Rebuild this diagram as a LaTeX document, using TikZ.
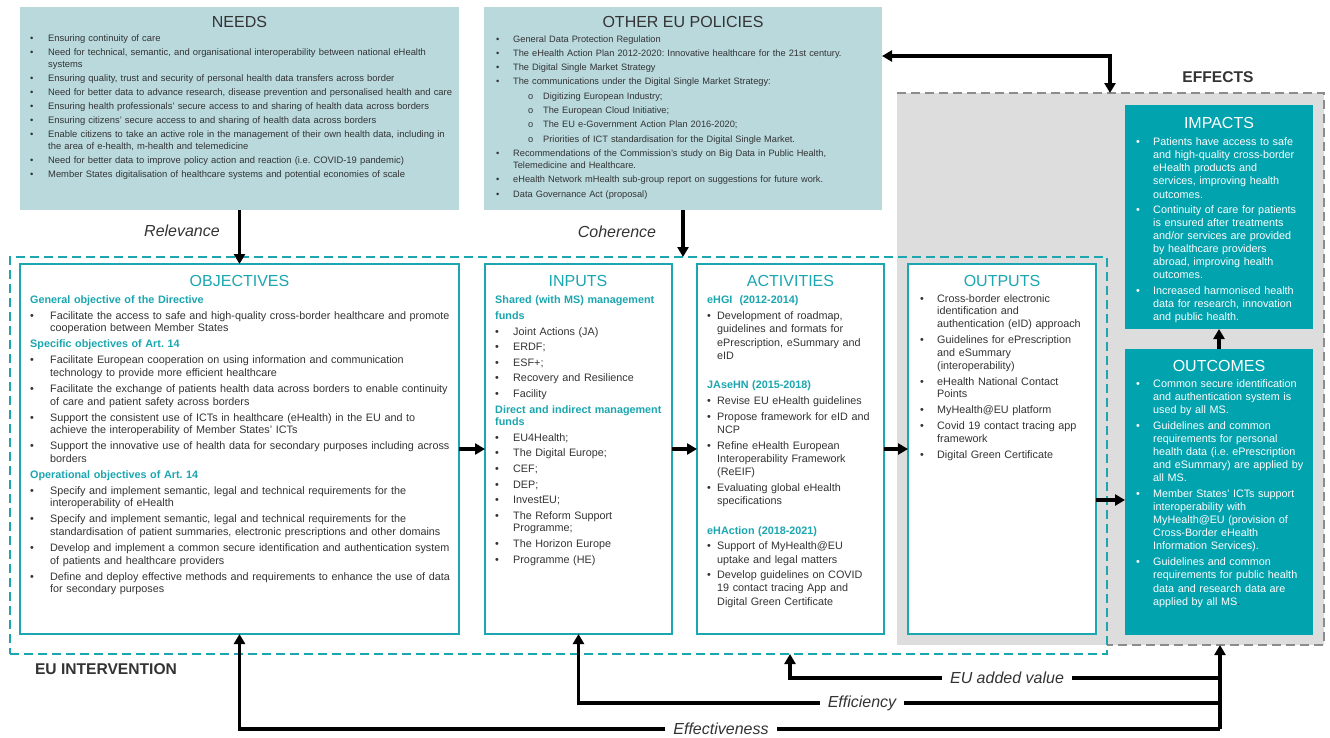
\documentclass[tikz,border=0pt]{standalone}
\usepackage{fontspec}
\setmainfont{Liberation Sans}
\usetikzlibrary{arrows.meta}
\definecolor{lteal}{RGB}{185,217,221}
\definecolor{teal1}{RGB}{27,166,176}
\definecolor{dteal}{RGB}{0,163,174}
\definecolor{txt}{RGB}{51,51,51}
\definecolor{gfill}{RGB}{221,221,221}
\definecolor{gline}{RGB}{140,140,140}
\newlength{\bind}\newlength{\boff}
\newcommand{\bi}[1]{\par\hangindent=\bind\hangafter=1\noindent\makebox[\bind][l]{\hspace{\boff}•}#1}
\newcommand{\sbi}[1]{\par\hangindent=47pt\hangafter=1\noindent\makebox[47pt][l]{\hspace{32pt}o}#1}
\newcommand{\hd}[1]{\par\noindent{\bfseries\color{teal1}#1}}
\newcommand{\fA}{\fontsize{9.4}{12}\selectfont}
\newcommand{\fAo}{\fontsize{9.25}{12}\selectfont}
\newcommand{\fB}{\fontsize{10.8}{12.6}\selectfont}
\newcommand{\fT}{\fontsize{16}{18}\selectfont}
\begin{document}
\frenchspacing
\begin{tikzpicture}[x=1pt,y=-1pt,
  box/.style={draw=teal1,line width=2.3pt,fill=white,inner sep=0pt,outer sep=0pt,anchor=north west},
  lbox/.style={fill=lteal,inner sep=0pt,outer sep=0pt,anchor=north west},
  dbox/.style={fill=dteal,inner sep=0pt,outer sep=0pt,anchor=north west},
  ttl/.style={font=\fT,inner sep=0pt},
  body/.style={anchor=north west,inner sep=0pt,align=left},
  arr/.style={line width=3.2pt,-{Triangle[length=10pt,width=11pt]}},
  lab/.style={font=\fT\itshape,text=txt,fill=white,inner xsep=8pt,inner ysep=2pt},
  big/.style={font=\fontsize{15.6}{18}\selectfont\bfseries,text=txt}
]
\useasboundingbox (0,0) rectangle (1330,737);
% effects region
\node[fill=gfill,inner sep=0pt,outer sep=0pt,anchor=north west,minimum width=427pt,minimum height=552pt] (eff) at (897,93) {};
\draw[gline,line width=2.3pt,dash pattern=on 9pt off 5pt] (eff.north west) -- (eff.north east) -- (eff.south east) -- ([xshift=210pt]eff.south west);
% EU intervention
\node[draw=teal1,line width=2.3pt,dash pattern=on 9pt off 5pt,inner sep=0pt,outer sep=0pt,anchor=north west,minimum width=1097pt,minimum height=397pt] (eu) at (10,257) {};
% boxes
\node[lbox,minimum width=439pt,minimum height=203pt] (needs) at (20,7) {};
\node[lbox,minimum width=398pt,minimum height=203pt] (oth) at (484,7) {};
\node[box,minimum width=439pt,minimum height=370pt] (obj) at (20,264) {};
\node[box,minimum width=187pt,minimum height=370pt] (inp) at (485,264) {};
\node[box,minimum width=187pt,minimum height=370pt] (act) at (697,264) {};
\node[box,minimum width=188pt,minimum height=370pt] (out) at (908,264) {};
\node[dbox,minimum width=188pt,minimum height=224pt] (imp) at (1125,105) {};
\node[dbox,minimum width=188pt,minimum height=286pt] (outc) at (1125,349) {};
% titles
\node[ttl,text=txt] (t1) at (239.5,21.5) {NEEDS};
\node[ttl,text=txt] (t2) at (683,21.5) {OTHER EU POLICIES};
\node[ttl,text=teal1] (t3) at (239.5,281) {OBJECTIVES};
\node[ttl,text=teal1] (t4) at (578,281) {INPUTS};
\node[ttl,text=teal1] (t5) at (790.5,281) {ACTIVITIES};
\node[ttl,text=teal1] (t6) at (1002,281) {OUTPUTS};
\node[ttl,text=white] (t7) at (1219,123) {IMPACTS};
\node[ttl,text=white] (t8) at (1219,366) {OUTCOMES};
% NEEDS body
\node[body,text width=432pt,font=\fA,text=txt] (needsb) at (30,27.5) {\setlength{\bind}{18pt}\setlength{\boff}{0pt}\setlength{\parskip}{2pt}%
\bi{Ensuring continuity of care}
\bi{Need for technical, semantic, and organisational interoperability between national eHealth\newline systems}
\bi{Ensuring quality, trust and security of personal health data transfers across border}
\bi{Need for better data to advance research, disease prevention and personalised health and care}
\bi{Ensuring health professionals’ secure access to and sharing of health data across borders}
\bi{Ensuring citizens’ secure access to and sharing of health data across borders}
\bi{Enable citizens to take an active role in the management of their own health data, including in\newline the area of e-health, m-health and telemedicine}
\bi{Need for better data to improve policy action and reaction (i.e. COVID-19 pandemic)}
\bi{Member States digitalisation of healthcare systems and potential economies of scale}\par};
% OTHER body
\node[body,text width=390pt,font=\fAo,text=txt] (othb) at (496,27.5) {\setlength{\bind}{17pt}\setlength{\boff}{0pt}\setlength{\parskip}{2.3pt}%
\bi{General Data Protection Regulation}
\bi{The eHealth Action Plan 2012-2020: Innovative healthcare for the 21st century.}
\bi{The Digital Single Market Strategy}
\bi{The communications under the Digital Single Market Strategy:}
\sbi{Digitizing European Industry;}
\sbi{The European Cloud Initiative;}
\sbi{The EU e-Government Action Plan 2016-2020;}
\sbi{Priorities of ICT standardisation for the Digital Single Market.}
\bi{Recommendations of the Commission’s study on Big Data in Public Health,\newline Telemedicine and Healthcare.}
\bi{eHealth Network mHealth sub-group report on suggestions for future work.}
\bi{Data Governance Act (proposal)}\par};
% OBJECTIVES body
\node[body,text width=440pt,font=\fB,text=txt] (objb) at (30,287) {\setlength{\bind}{20pt}\setlength{\boff}{0pt}\setlength{\parskip}{3.4pt}%
\hd{General objective of the Directive}
\bi{Facilitate the access to safe and high-quality cross-border healthcare and promote\newline cooperation between Member States}
\hd{Specific objectives of Art. 14}
\bi{Facilitate European cooperation on using information and communication\newline technology to provide more efficient healthcare}
\bi{Facilitate the exchange of patients health data across borders to enable continuity\newline of care and patient safety across borders}
\bi{Support the consistent use of ICTs in healthcare (eHealth) in the EU and to\newline achieve the interoperability of Member States’ ICTs}
\bi{Support the innovative use of health data for secondary purposes including across\newline borders}
\hd{Operational objectives of Art. 14}
\bi{Specify and implement semantic, legal and technical requirements for the\newline interoperability of eHealth}
\bi{Specify and implement semantic, legal and technical requirements for the\newline standardisation of patient summaries, electronic prescriptions and other domains}
\bi{Develop and implement a common secure identification and authentication system\newline of patients and healthcare providers}
\bi{Define and deploy effective methods and requirements to enhance the use of data\newline for secondary purposes}\par};
% INPUTS body
\node[body,text width=200pt,font=\fB,text=txt] (inpb) at (495,288) {\setlength{\bind}{18pt}\setlength{\boff}{0pt}\setlength{\parskip}{3pt}%
\hd{Shared (with MS) management}
\hd{funds}
\bi{Joint Actions (JA)}
\bi{ERDF;}
\bi{ESF+;}
\bi{Recovery and Resilience}
\bi{Facility}
\hd{Direct and indirect management\newline funds}
\bi{EU4Health;}
\bi{The Digital Europe;}
\bi{CEF;}
\bi{DEP;}
\bi{InvestEU;}
\bi{The Reform Support\newline Programme;}
\bi{The Horizon Europe}
\bi{Programme (HE)}\par};
% ACTIVITIES body
\node[body,text width=200pt,font=\fontsize{10.8}{13.3}\selectfont,text=txt] (actb) at (707,288) {\setlength{\bind}{10pt}\setlength{\boff}{0pt}\setlength{\parskip}{2.3pt}%
\hd{eHGI~ (2012-2014)}
\bi{Development of roadmap,\newline guidelines and formats for\newline ePrescription, eSummary and\newline eID}
\par\vspace{14pt}
\hd{JAseHN (2015-2018)}
\bi{Revise EU eHealth guidelines}
\bi{Propose framework for eID and\newline NCP}
\bi{Refine eHealth European\newline Interoperability Framework\newline (ReEIF)}
\bi{Evaluating global eHealth\newline specifications}
\par\vspace{14pt}
\hd{eHAction (2018-2021)}
\bi{Support of MyHealth@EU\newline uptake and legal matters}
\bi{Develop guidelines on COVID\newline 19 contact tracing App and\newline Digital Green Certificate}\par};
% OUTPUTS body
\node[body,text width=200pt,font=\fontsize{10.8}{12.7}\selectfont,text=txt] (outb) at (920,286) {\setlength{\bind}{17pt}\setlength{\boff}{0pt}\setlength{\parskip}{3.3pt}%
\bi{Cross-border electronic\newline identification and\newline authentication (eID) approach}
\bi{Guidelines for ePrescription\newline and eSummary\newline (interoperability)}
\bi{eHealth National Contact\newline Points}
\bi{MyHealth@EU platform}
\bi{Covid 19 contact tracing app\newline framework}
\bi{Digital Green Certificate}\par};
% IMPACTS body
\node[body,text width=200pt,font=\fontsize{10.8}{13.1}\selectfont,text=white] (impb) at (1136,130) {\setlength{\bind}{17pt}\setlength{\boff}{0pt}\setlength{\parskip}{2.3pt}%
\bi{Patients have access to safe\newline and high-quality cross-border\newline eHealth products and\newline services, improving health\newline outcomes.}
\bi{Continuity of care for patients\newline is ensured after treatments\newline and/or services are provided\newline by healthcare providers\newline abroad, improving health\newline outcomes.}
\bi{Increased harmonised health\newline data for research, innovation\newline and public health.}\par};
% OUTCOMES body
\node[body,text width=200pt,font=\fontsize{10.8}{13.1}\selectfont,text=white] (outcb) at (1136,371) {\setlength{\bind}{17pt}\setlength{\boff}{0pt}\setlength{\parskip}{2.8pt}%
\bi{Common secure identification\newline and authentication system is\newline used by all MS.}
\bi{Guidelines and common\newline requirements for personal\newline health data (i.e. ePrescription\newline and eSummary) are applied by\newline all MS.}
\bi{Member States’ ICTs support\newline interoperability with\newline MyHealth@EU (provision of\newline Cross-Border eHealth\newline Information Services).}
\bi{Guidelines and common\newline requirements for public health\newline data and research data are\newline applied by all MS{\color{txt}.}}\par};
% group labels
\node[big] (eul) at (106,669) {EU INTERVENTION};
\node[big] (effl) at (1218,77) {EFFECTS};
\node[font=\fT\itshape,text=txt] (rel) at (182,231) {Relevance};
\node[font=\fT\itshape,text=txt] (coh) at (617,232) {Coherence};
% top arrows
\draw[arr] (needs.south) -- (obj.north);
\draw[arr] (oth.south) -- (eu.north -| oth.south);
\coordinate (e1) at (1110,56);
\draw[line width=3.2pt,{Triangle[length=10pt,width=11pt]}-{Triangle[length=10pt,width=11pt]}] (oth.east |- e1) -- (e1) -- (e1 |- eff.north);
% chain arrows
\draw[arr] (obj.east) -- (inp.west);
\draw[arr] (inp.east) -- (act.west);
\draw[arr] (act.east) -- (out.west);
\coordinate (o2) at ([yshift=-8pt]outc.west);
\draw[arr] (out.east |- o2) -- (o2);
\draw[arr] (outc.north) -- (imp.south);
% bottom feedback arrows
\coordinate (b1) at (1220,678);
\coordinate (b2) at (1220,703);
\coordinate (b3) at (1220,729);
\coordinate (avt) at (790,654);
\draw[arr] (b3) -- (eff.south -| b3);
\draw[arr] (b1) -| (avt);
\draw[arr] (b2) -| (inp.south);
\draw[arr] (b3) -| (obj.south);
\node[lab] (lav) at (1007,678) {EU added value};
\node[lab] (lef) at (862,703) {Efficiency};
\node[lab] (lefc) at (721,729) {Effectiveness};
\end{tikzpicture}
\end{document}
